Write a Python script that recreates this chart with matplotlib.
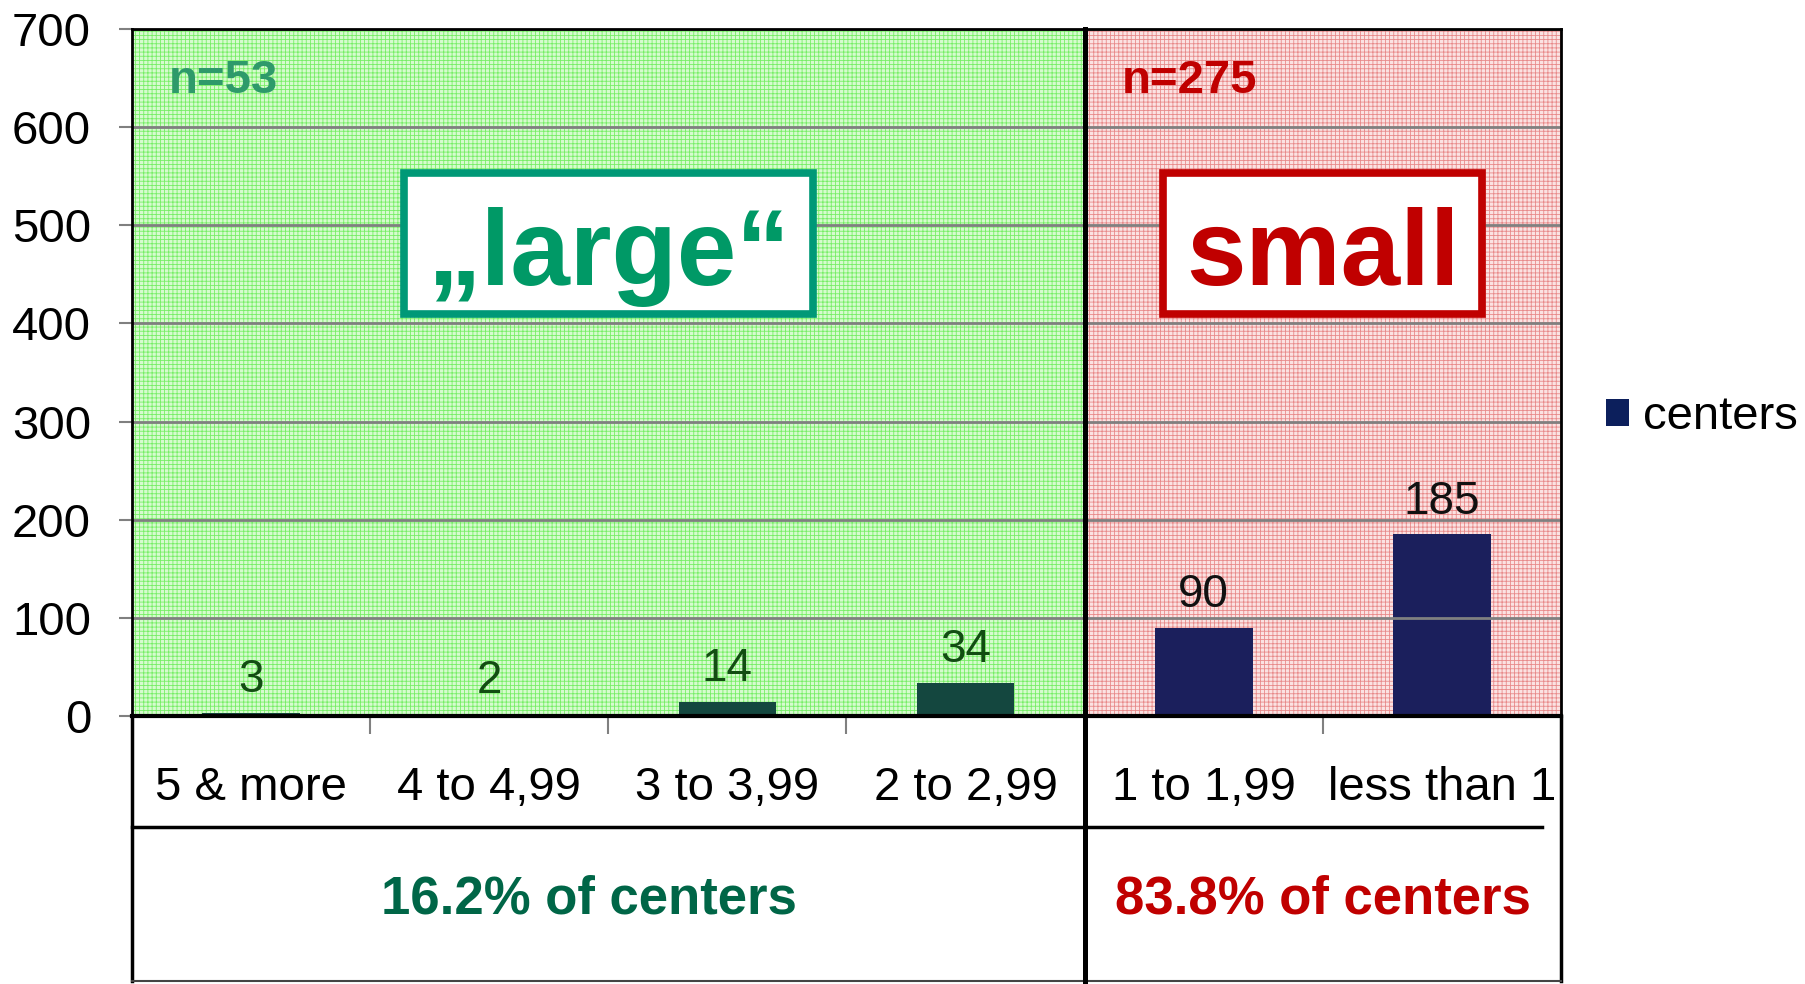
import numpy as np
import matplotlib
matplotlib.use("Agg")
import matplotlib.pyplot as plt
from matplotlib.patches import Rectangle, Patch

plt.rcParams['font.family'] = ['Liberation Sans', 'DejaVu Sans']
plt.rcParams['hatch.linewidth'] = 0.6

# data
categories = ['5 & more', '4 to 4,99', '3 to 3,99', '2 to 2,99', '1 to 1,99', 'less than 1']
centers = [3, 2, 14, 34, 90, 185]
group_names = ['\u201elarge\u201c', 'small']
group_sizes = [4, 2]
group_n = ['n=53', 'n=275']
group_share = ['16.2% of centers', '83.8% of centers']

# styles per group
g_fill = ['#d6fbce', '#fbe2e2']
g_hatch = ['#77ee66', '#e88a8a']
g_text = ['#2e9a6a', '#c00000']
g_box = ['#009977', '#c00000']
g_big = ['#009966', '#c00000']
g_share = ['#006647', '#c00000']
g_bar = ['#14473f', '#1b1f5c']
g_val = ['#124d12', '#111111']
share_shift = [-0.08, 0.0]

fig = plt.figure(figsize=(18.06, 9.84), dpi=100)
ax = fig.add_axes([132 / 1806, 268 / 984, 1429 / 1806, 687 / 984])
ax.set_xlim(-0.5, len(categories) - 0.5)
ax.set_ylim(0, 700)

xaxis_tr = ax.get_xaxis_transform()
x = np.arange(len(categories))
start = -0.5
for gi, size in enumerate(group_sizes):
    end = start + size
    ax.add_patch(Rectangle((start, 0), size, 700, facecolor=g_fill[gi], edgecolor='none', zorder=0))
    ax.add_patch(Rectangle((start, 0), size, 700, facecolor='none', edgecolor=g_hatch[gi],
                           hatch='++++', linewidth=0, zorder=0.1))
    idx = [i for i in range(len(categories)) if start < i < end]
    ax.bar([x[i] for i in idx], [centers[i] for i in idx], width=0.41, color=g_bar[gi], zorder=2)
    for i in idx:
        ax.annotate(str(centers[i]), (x[i], centers[i]), xytext=(0, 15), textcoords='offset points',
                    ha='center', va='baseline', fontsize=33, color=g_val[gi], zorder=4)
    # n= label
    ax.text(start + 0.155, 635, group_n[gi], fontsize=34, fontweight='bold', color=g_text[gi],
            ha='left', va='baseline', zorder=4)
    # big label box
    mid = (start + end) / 2
    ax.add_patch(Rectangle((mid - 0.86 if gi == 0 else mid - 0.67, 410),
                           1.72 if gi == 0 else 1.34, 143, facecolor='white',
                           edgecolor=g_box[gi], linewidth=5.5, zorder=3))
    ax.text(mid, 439, group_names[gi], fontsize=77, fontweight='bold', color=g_big[gi],
            ha='center', va='baseline', zorder=4)
    # share text
    ax.text(mid + share_shift[gi], -0.288, group_share[gi], transform=xaxis_tr, fontsize=38,
            fontweight='bold', color=g_share[gi], ha='center', va='baseline', clip_on=False)
    start = end

# category labels
for i, c in enumerate(categories):
    ax.text(i, -0.105, c, transform=xaxis_tr, fontsize=34, ha='center', va='center', clip_on=False)

# grid and ticks
ax.set_yticks(np.arange(0, 701, 100))
ax.yaxis.grid(True, color='#808080', linewidth=2, zorder=1)
ax.set_axisbelow(False)
for gl in ax.get_ygridlines():
    gl.set_zorder(1)
ax.tick_params(axis='y', length=9.5, width=1.5, color='#808080', pad=20, labelsize=34)
ax.set_xticks([])
ax.set_xticks(np.arange(0.5, len(categories) - 1), minor=True)
ax.tick_params(axis='x', which='minor', length=13, width=1.5, color='#808080', labelbottom=False)

for s in ['top', 'left', 'right']:
    ax.spines[s].set_linewidth(2)
    ax.spines[s].set_zorder(5)
ax.spines['bottom'].set_linewidth(3)
ax.spines['bottom'].set_zorder(5)

# table below the axis
bottom = -0.3857
row = -0.1616
split = group_sizes[0] - 0.5
ax.plot([-0.5, -0.5], [0, bottom], transform=xaxis_tr, color='black', lw=2.5, clip_on=False)
ax.plot([split, split], [1, bottom], transform=xaxis_tr, color='black', lw=3.6, clip_on=False, zorder=6)
ax.plot([5.5, 5.5], [0, bottom], transform=xaxis_tr, color='black', lw=2.5, clip_on=False)
ax.plot([-0.5, 5.42], [row, row], transform=xaxis_tr, color='black', lw=2.5, clip_on=False)
ax.plot([-0.5, 5.5], [bottom, bottom], transform=xaxis_tr, color='#444444', lw=1.5, clip_on=False)

# legend
fig.legend(handles=[Patch(facecolor='#0c1f5c', label='centers')], loc='center left',
           bbox_to_anchor=(0.889, 0.576), frameon=False, fontsize=34, borderpad=0,
           borderaxespad=0, handlelength=0.5, handleheight=0.5, handletextpad=0.3)

fig.savefig('out.png', dpi=100)
